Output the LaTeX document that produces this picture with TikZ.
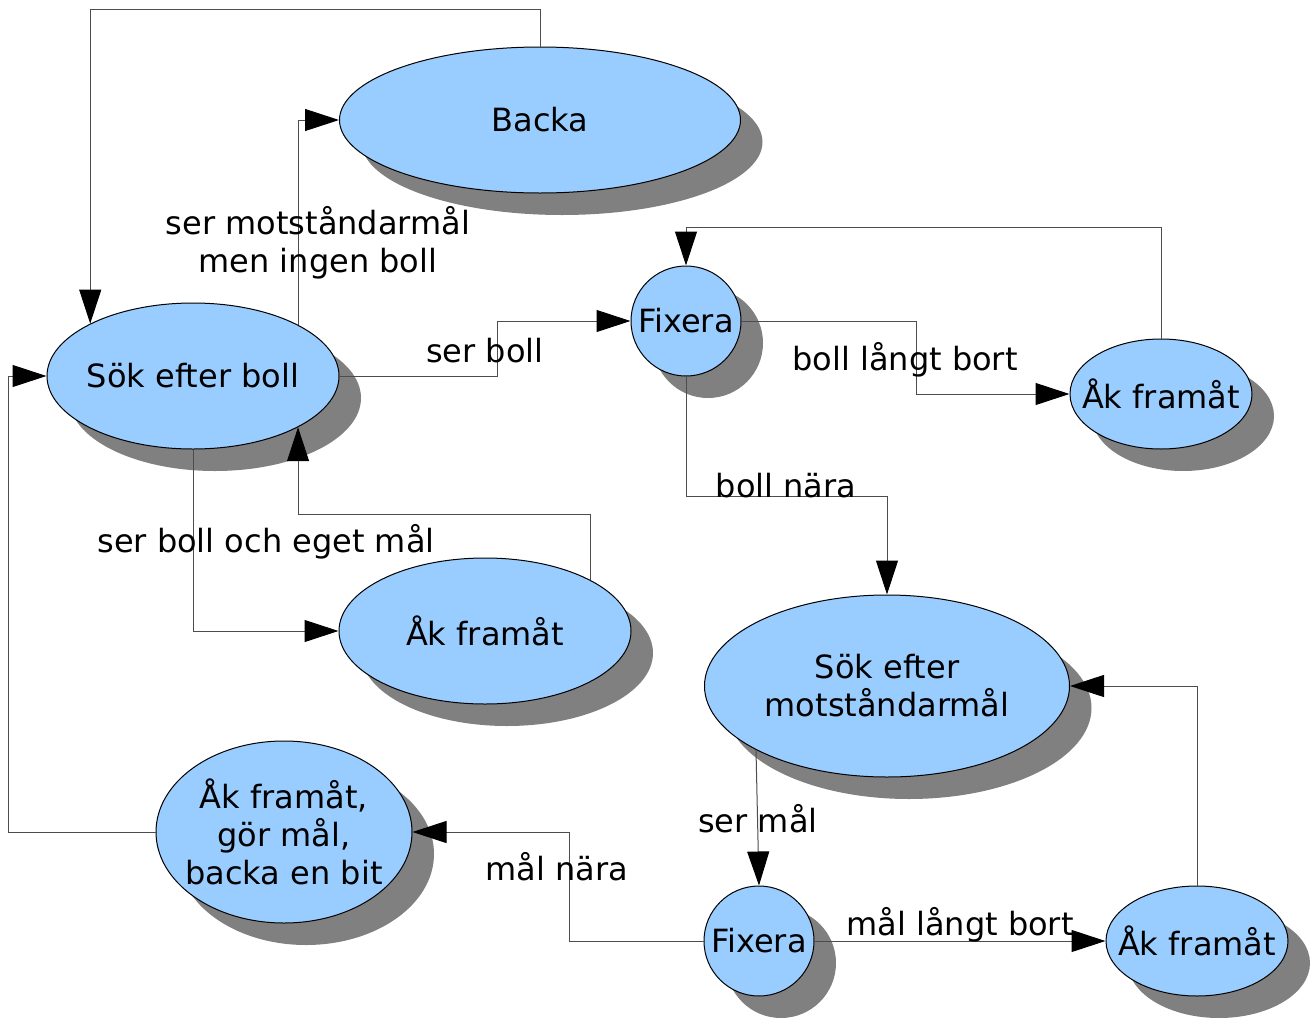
\documentclass[tikz,border=0pt]{standalone}
\usepackage{fontspec}
\setmainfont{DejaVu Sans}
\usetikzlibrary{shapes}
\usetikzlibrary{shadows}
\usetikzlibrary{arrows.meta}
\definecolor{statebg}{HTML}{99CCFF}
\definecolor{shadowgray}{HTML}{808080}
\definecolor{wiregray}{HTML}{4D4D4D}
\tikzset{
  state/.style={ellipse,draw=black,line width=0.5pt,fill=statebg,
    inner sep=-30pt,align=center,font=\fontsize{16}{19}\selectfont,
    drop shadow={shadow xshift=11pt,shadow yshift=-11pt,
      fill=shadowgray,opacity=1}},
  cond/.style={align=center,inner sep=0pt,font=\fontsize{16}{19}\selectfont},
  trans/.style={draw=wiregray,line width=0.5pt,
    -{Triangle[length=17pt,width=11pt,color=black]}}
}

\begin{document}
\begin{tikzpicture}[x=0.5pt,y=-0.5pt]
    \useasboundingbox (0,0) rectangle (1314,1018);
    % States
    \node[state,minimum width=200.5pt,minimum height=73pt] (backa) at (540,120) {Backa};
    \node[state,minimum width=146pt,minimum height=73pt] (sok) at (193,376) {Sök efter boll};
    \node[state,minimum width=55pt,minimum height=55pt] (fixt) at (686,321) {Fixera};
    \node[state,minimum width=91pt,minimum height=55pt] (akr) at (1161,394) {Åk framåt};
    \node[state,minimum width=146pt,minimum height=73pt] (akm) at (485,631) {Åk framåt};
    \node[state,minimum width=182.5pt,minimum height=91pt] (motst) at (887,686)
      {Sök efter\\motståndarmål};
    \node[state,minimum width=128pt,minimum height=91pt] (gor) at (284,832)
      {Åk framåt,\\ gör mål,\\backa en bit};
    \node[state,minimum width=55pt,minimum height=55pt] (fixb) at (759,941) {Fixera};
    \node[state,minimum width=91pt,minimum height=55pt] (akb) at (1197,941) {Åk framåt};
    % Transitions
    \draw[trans] (backa.north) -- ++(0,-37) -| (sok.153.3);
    \draw[trans] (sok.26.7) |- (backa.west);
    \draw[trans] (sok.east) -- ++(158,0) |- (fixt.west);
    \draw[trans] (fixt.east) -- ++(175,0) |- (akr.west);
    \draw[trans] (akr.north) -- ++(0,-111) -| (fixt.north);
    \draw[trans] (fixt.south) -- ++(0,120) -| (motst.north);
    \draw[trans] (sok.south) |- (akm.west);
    \draw[trans] (akm.26.3) -- ++(0,-65) -| (sok.-26.7);
    \draw[trans] (motst.206.5) -- (fixb.north);
    \draw[trans] (fixb.east) -- (akb.west);
    \draw[trans] (akb.north) |- (motst.east);
    \draw[trans] (fixb.west) -- ++(-134,0) |- (gor.east);
    \draw[trans] (gor.west) -- ++(-147,0) |- (sok.west);
    % Conditions
    \node[cond] (cmotst) at (318,243) {ser motståndarmål\\men ingen boll};
    \node[cond,anchor=base] (cboll) at (485,362) {ser boll};
    \node[cond,anchor=base] (clangt) at (905,370) {boll långt bort};
    \node[cond,anchor=base] (cnara) at (786,497) {boll nära};
    \node[cond,anchor=base] (cegen) at (266,552) {ser boll och eget mål};
    \node[cond,anchor=base] (cmal) at (758,832) {ser mål};
    \node[cond,anchor=base] (cmallangt) at (960,935) {mål långt bort};
    \node[cond,anchor=base] (cmalnara) at (557,880) {mål nära};
\end{tikzpicture}
\end{document}
